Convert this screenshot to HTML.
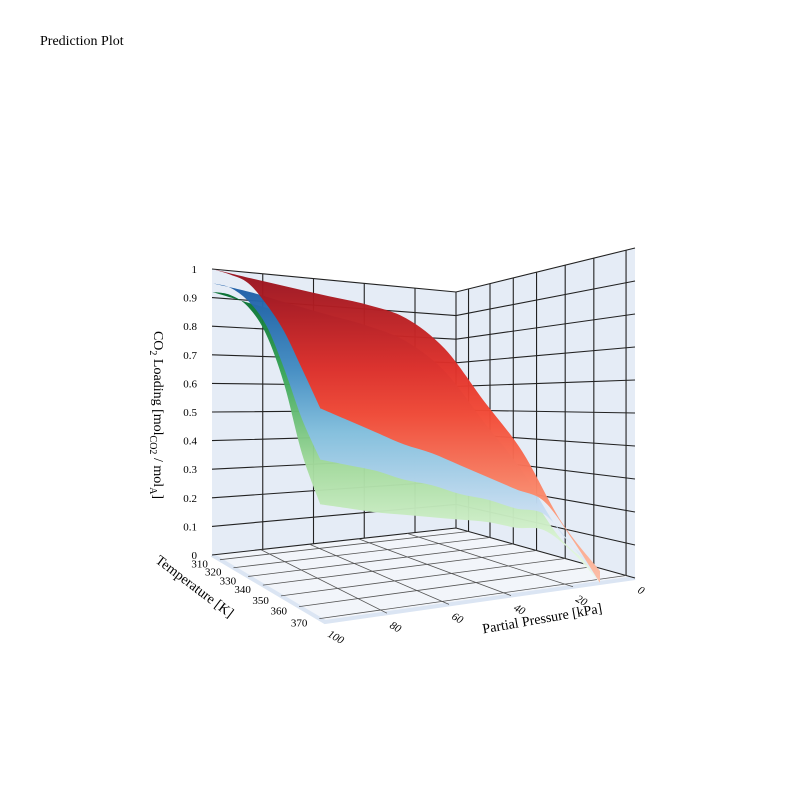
<!DOCTYPE html>
<html><head><meta charset="utf-8"><style>
body{margin:0;background:#fff;width:800px;height:800px;overflow:hidden}
text{font-family:"Liberation Serif",serif;fill:#000}
</style></head><body>
<svg id="chart" width="800" height="800" viewBox="0 0 800 800" xmlns="http://www.w3.org/2000/svg">
<defs>
<linearGradient id="gRed" gradientUnits="userSpaceOnUse" x1="0" y1="275" x2="0" y2="585">
<stop offset="0" stop-color="#99131f"/><stop offset="0.3" stop-color="#e0302a"/><stop offset="0.45" stop-color="#f34a36"/><stop offset="0.75" stop-color="#fc9474"/><stop offset="1" stop-color="#fcc0a8"/></linearGradient>
<linearGradient id="gBlue" gradientUnits="userSpaceOnUse" x1="0" y1="280" x2="0" y2="585">
<stop offset="0" stop-color="#1a5aa4"/><stop offset="0.3" stop-color="#4a90c8"/><stop offset="0.5" stop-color="#86c0e0"/><stop offset="0.75" stop-color="#c6dcf2"/><stop offset="1" stop-color="#e6eff9"/></linearGradient>
<linearGradient id="gGreen" gradientUnits="userSpaceOnUse" x1="0" y1="285" x2="0" y2="585">
<stop offset="0" stop-color="#006a2c"/><stop offset="0.3" stop-color="#3aa659"/><stop offset="0.6" stop-color="#a3da9c"/><stop offset="0.85" stop-color="#d9f3d2"/><stop offset="1" stop-color="#f0faec"/></linearGradient>
</defs>
<text x="40" y="45" font-size="14">Prediction Plot</text>
<g id="scene"></g>
</svg>
<script>
// ---- data ----
const pressures = [100,90,80,70,60,50,40,30,20,10,0];
const temps = [310,320,330,340,350,360,370];
const zTicks = [0,0.1,0.2,0.3,0.4,0.5,0.6,0.7,0.8,0.9,1];
const zTickLabels = ["0","0.1","0.2","0.3","0.4","0.5","0.6","0.7","0.8","0.9","1"];
const tTickLabels = ["310","320","330","340","350","360","370"];
const pTicks = [100,80,60,40,20,0];
const redTop = [1,0.98,0.96,0.94,0.92,0.88,0.77,0.56,0.37,0.14,0];
const redBottom = [0.67,0.62,0.57,0.52,0.48,0.43,0.38,0.33,0.28,0.15,0];
const redLeft = [1,1,0.99,0.94,0.87,0.77,0.67];
const blueTop = [0.95,0.93,0.9,0.87,0.84,0.79,0.68,0.48,0.3,0.1,0];
const blueBottom = [0.51,0.48,0.45,0.41,0.38,0.34,0.31,0.27,0.24,0.13,0];
const blueLeft = [0.95,0.955,0.93,0.87,0.75,0.61,0.51];
const greenTop = [0.92,0.89,0.86,0.82,0.78,0.72,0.6,0.42,0.26,0.08,0];
const greenBottom = [0.37,0.345,0.32,0.30,0.28,0.26,0.24,0.21,0.19,0.11,0];
const greenLeft = [0.92,0.93,0.91,0.84,0.70,0.50,0.37];

const NS="http://www.w3.org/2000/svg";
const scene=document.getElementById('scene');
function mk(tag,attrs,parent){const e=document.createElementNS(NS,tag);for(const k in attrs)e.setAttribute(k,attrs[k]);(parent||scene).appendChild(e);return e;}
const lerp=(a,b,t)=>a+(b-a)*t;
function leftWall(u,z){return [212+244*u,(555-27*u)-z*(286-50*u)];}
function rightWall(v,z){return [456+179*v,(528+50*v)-z*(236+94*v)];}
function floorPt(u,v){const A=[212,555],D=[456,528],B=[325,622],C=[635,578];
 const x=lerp(lerp(A[0],D[0],u),lerp(B[0],C[0],u),v);const y=lerp(lerp(A[1],D[1],u),lerp(B[1],C[1],u),v);return [x,y];}
const pU=p=>(100-p)/100;
const tV=[0.07,0.19,0.32,0.45,0.61,0.77,0.95];
function piece(x){const k=[[212,555,286],[456,542,250],[635,578,331]];const i=x<456?0:1;const t=(x-k[i][0])/(k[i+1][0]-k[i][0]);return [lerp(k[i][1],k[i+1][1],t),lerp(k[i][2],k[i+1][2],t)];}
function topPt(p,z){const x=212+(100-p)*3.88;const [b,h]=piece(x);return [x,b-z*h];}
function botPt(p,z){const x=320+(100-p)*2.8;return [x,622-(x-325)*44/310-z*320];}
function leftPt(T,z){const x=212+(T-310)*1.8;return [x,555+(x-212)*67/108-z*(286+(x-212)*34/108)];}
const P=a=>a.map(q=>q[0].toFixed(1)+','+q[1].toFixed(1)).join(' ');
const f=v=>v.toFixed(1);
function smooth(pts,first){let d=first?'M'+f(pts[0][0])+','+f(pts[0][1]):'L'+f(pts[0][0])+','+f(pts[0][1]);
 for(let i=0;i<pts.length-1;i++){const p0=pts[Math.max(0,i-1)],p1=pts[i],p2=pts[i+1],p3=pts[Math.min(pts.length-1,i+2)];
  const c1=[p1[0]+(p2[0]-p0[0])/6,p1[1]+(p2[1]-p0[1])/6],c2=[p2[0]-(p3[0]-p1[0])/6,p2[1]-(p3[1]-p1[1])/6];
  d+=' C'+f(c1[0])+','+f(c1[1])+' '+f(c2[0])+','+f(c2[1])+' '+f(p2[0])+','+f(p2[1]);}
 return d;}

const lw=mk('polygon',{points:P([leftWall(0,0),leftWall(0,1),leftWall(1,1),leftWall(1,0)]),fill:'#e5ecf6'});


const rw=mk('polygon',{points:P([rightWall(0,0),rightWall(0,1),rightWall(1,1),rightWall(1,0)]),fill:'#e5ecf6'});


const fl=mk('polygon',{points:P([floorPt(0,0),floorPt(1,0),floorPt(1,1),floorPt(0,1)]),fill:'#f2f5fa'});


const band=mk('polyline',{points:P([floorPt(0,0),floorPt(0,1),floorPt(1,1)]),fill:'none',stroke:'#dbe5f3','stroke-width':4});


const grid=mk('g',{stroke:'#222','stroke-width':1.1,fill:'none'});


zTicks.forEach(z=>{mk('polyline',{points:P([leftWall(0,z),leftWall(1,z),rightWall(1,z)])},grid);});
[80,60,40,20].forEach(p=>{const u=pU(p)*1.04;mk('line',{x1:leftWall(u,0)[0],y1:leftWall(u,0)[1],x2:leftWall(u,1)[0],y2:leftWall(u,1)[1]},grid);});
mk('line',{x1:456,y1:528,x2:456,y2:292},grid);
tV.forEach(v=>{const a=rightWall(v,0),b=rightWall(v,1);mk('line',{x1:a[0],y1:a[1],x2:b[0],y2:b[1]},grid);});
const fg=mk('g',{stroke:'#555','stroke-width':0.8,fill:'none'});


tV.forEach(v=>{const a=floorPt(0,v),b=floorPt(1,v);mk('line',{x1:a[0],y1:a[1],x2:b[0],y2:b[1]},fg);});
[80,60,40,20].forEach(p=>{const a=floorPt(pU(p),0),b=floorPt(pU(p),1);mk('line',{x1:a[0],y1:a[1],x2:b[0],y2:b[1]},fg);});

function surface(top,bot,left,fill,name){
 const t=[],b=[],l=[];
 pressures.forEach((p,i)=>t.push(topPt(p,top[i])));
 for(let i=pressures.length-1;i>=0;i--)b.push(botPt(pressures[i],bot[i]));
 for(let i=temps.length-1;i>=0;i--)l.push(leftPt(temps[i],left[i]));
 const d=smooth(t,true)+' '+smooth(b,false)+' '+smooth(l,false)+' Z';
 const s=mk('path',{d:d,fill:fill,'fill-opacity':0.97});
 
 
}
surface(greenTop,greenBottom,greenLeft,'url(#gGreen)','surface-green');
surface(blueTop,blueBottom,blueLeft,'url(#gBlue)','surface-blue');
surface(redTop,redBottom,redLeft,'url(#gRed)','surface-red');

zTicks.forEach((z,i)=>{const t=mk('text',{x:197,y:leftWall(0,z)[1]+4,'font-size':11,'text-anchor':'end'});t.textContent=zTickLabels[i];
 
 });
tTickLabels.forEach((s,i)=>{const [x,y]=floorPt(0,tV[i]);const t=mk('text',{x:x-12,y:y+8,'font-size':11,'text-anchor':'end'});t.textContent=s;
 
 });
pTicks.forEach(p=>{const [x,y]=floorPt(pU(p),1);const t=mk('text',{x:x+2,y:y+14,'font-size':11,'font-style':'italic',transform:`rotate(30 ${x+2} ${y+14})`});t.textContent=String(p);
 
 });
</script>
<svg style="position:absolute;left:0;top:0" width="800" height="800">
<text x="192" y="590" font-size="14" transform="rotate(37 192 590)" text-anchor="middle" style="font-family:'Liberation Serif',serif">Temperature [K]</text>
<text x="543" y="623" font-size="14" transform="rotate(-10 543 623)" text-anchor="middle" style="font-family:'Liberation Serif',serif">Partial Pressure [kPa]</text>
<text x="154" y="415" font-size="14" transform="rotate(90 154 415)" text-anchor="middle" style="font-family:'Liberation Serif',serif">CO<tspan font-size="10" dy="4">2</tspan><tspan dy="-4"> Loading [mol</tspan><tspan font-size="10" dy="4">CO2</tspan><tspan dy="-4"> / mol</tspan><tspan font-size="10" dy="4">A</tspan><tspan dy="-4">]</tspan></text>
</svg>
</body></html>
